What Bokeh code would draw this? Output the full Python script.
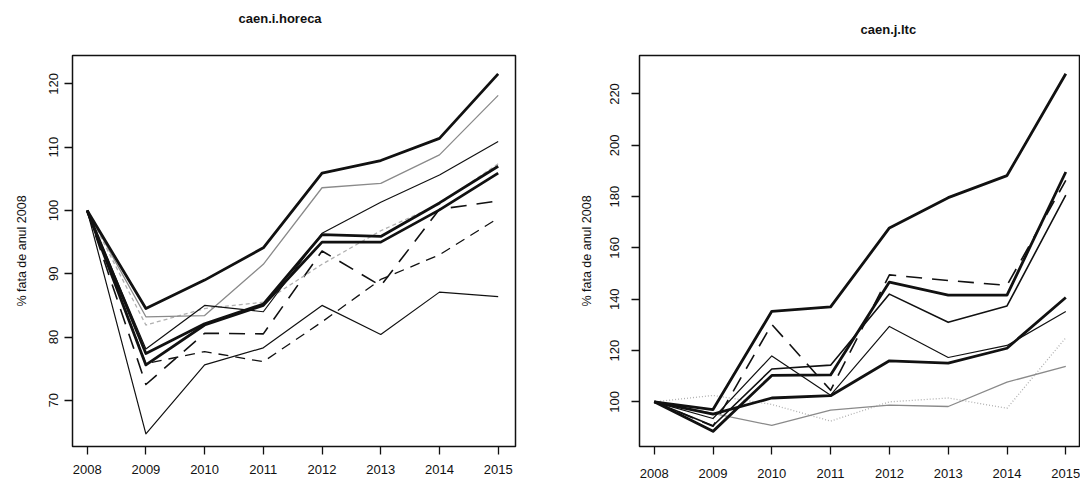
from bokeh.plotting import figure
from bokeh.layouts import row
from bokeh.models import Range1d, FixedTicker, Title
from bokeh.embed import file_html
from bokeh.resources import INLINE

# ---------------- data ----------------
years = [2008, 2009, 2010, 2011, 2012, 2013, 2014, 2015]

# panel 1: caen.i.horeca  (% fata de anul 2008)
horeca_1 = [100, 84.5, 89.0, 94.1, 105.9, 107.9, 111.4, 121.6]
horeca_2 = [100, 83.2, 83.4, 91.5, 103.6, 104.3, 108.8, 118.2]
horeca_3 = [100, 78.1, 85.0, 84.0, 96.4, 101.3, 105.6, 110.9]
horeca_4 = [100, 77.4, 82.1, 85.2, 96.2, 95.9, 101.2, 107.0]
horeca_5 = [100, 75.6, 81.9, 85.0, 95.0, 95.0, 100.1, 105.9]
horeca_6 = [100, 81.9, 84.5, 85.5, 91.5, 96.8, 101.0, 107.4]
horeca_7 = [100, 72.5, 80.6, 80.5, 93.6, 88.1, 100.2, 101.5]
horeca_8 = [100, 75.8, 77.7, 76.1, 82.4, 89.1, 93.0, 98.8]
horeca_9 = [100, 64.7, 75.6, 78.3, 85.0, 80.4, 87.1, 86.4]
horeca_ticks = [70, 80, 90, 100, 110, 120]

# panel 2: caen.j.ltc
ltc_1 = [100, 97.0, 135.3, 137.0, 167.8, 179.6, 188.2, 227.9]
ltc_2 = [100, 90.5, 130.2, 104.5, 149.5, 147.3, 145.4, 186.3]
ltc_3 = [100, 88.5, 110.3, 110.5, 146.7, 141.6, 141.6, 189.6]
ltc_4 = [100, 90.7, 112.8, 114.3, 142.0, 131.0, 137.4, 180.6]
ltc_5 = [100, 93.5, 117.9, 102.6, 129.4, 117.3, 122.0, 135.2]
ltc_6 = [100, 95.2, 101.5, 102.4, 116.0, 115.1, 120.9, 140.7]
ltc_7 = [100, 95.5, 90.8, 96.8, 98.7, 98.2, 107.7, 113.8]
ltc_8 = [100, 102.5, 99.0, 92.5, 100.0, 101.5, 97.5, 125.0]
ltc_ticks = [100, 120, 140, 160, 180, 200, 220]

y_label = "% fata de anul 2008"

# ---------------- styles ----------------
BLACK = "#111111"
GRAY = "#8a8a8a"
LGRAY = "#b0b0b0"
THICK = dict(line_color=BLACK, line_width=2.8)
THIN = dict(line_color=BLACK, line_width=1.2)
MED = dict(line_color=BLACK, line_width=1.6)
GRAY_SOLID = dict(line_color=GRAY, line_width=1.3)
GRAY_DOT = dict(line_color=LGRAY, line_width=1.3, line_dash="1 2")
GRAY_DASH = dict(line_color=LGRAY, line_width=1.3, line_dash="4 3")
LONG_DASH = dict(line_color=BLACK, line_width=1.6, line_dash="16 10")
DASH = dict(line_color=BLACK, line_width=1.3, line_dash="10 7")

FONT = "Liberation Sans"


def make_fig(width, xr, yr, bl, br, bt, bb, yticks, title, spacer_px, title_offset,
             xlab_standoff, ylab_standoff, yaxis_label_standoff):
    p = figure(width=width, height=484, x_range=Range1d(*xr), y_range=Range1d(*yr),
               output_backend="svg", toolbar_location=None,
               min_border_left=bl, min_border_right=br,
               min_border_top=bt, min_border_bottom=bb)
    p.grid.visible = False
    p.background_fill_color = "white"
    p.border_fill_color = "white"
    p.outline_line_color = BLACK
    p.outline_line_width = 1.5
    p.xaxis.ticker = FixedTicker(ticks=years)
    p.yaxis.ticker = FixedTicker(ticks=yticks)
    for ax in p.axis:
        ax.axis_line_color = None
        ax.major_tick_out = 8
        ax.major_tick_in = 0
        ax.minor_tick_line_color = None
        ax.major_tick_line_color = BLACK
        ax.major_tick_line_width = 1.3
        ax.major_label_text_font = FONT
        ax.major_label_text_font_size = "13px"
        ax.major_label_text_color = BLACK
    p.xaxis.major_label_standoff = xlab_standoff
    p.yaxis.major_label_orientation = "vertical"
    p.yaxis.major_label_standoff = ylab_standoff
    p.yaxis.axis_label = y_label
    p.yaxis.axis_label_text_font = FONT
    p.yaxis.axis_label_text_font_size = "12.5px"
    p.yaxis.axis_label_text_font_style = "normal"
    p.yaxis.axis_label_text_color = BLACK
    p.yaxis.axis_label_standoff = yaxis_label_standoff
    # spacer between the frame and the title
    p.add_layout(Title(text=" ", text_font_size=f"{spacer_px}px", standoff=0), "above")
    p.title.text = title
    p.title.align = "left"
    p.title.offset = title_offset
    p.title.text_font = FONT
    p.title.text_font_size = "13px"
    p.title.text_font_style = "bold"
    p.title.text_color = BLACK
    p.title.standoff = 0
    return p


p1 = make_fig(540, (2007.75, 2015.295), (62.7, 124.5), 72, 25, 50, 38,
              horeca_ticks, "caen.i.horeca", 25, 166, 10, 6, 18)
p1.line(years, horeca_9, line_join="round", **THIN)
p1.line(years, horeca_8, line_join="round", **DASH)
p1.line(years, horeca_7, line_join="round", **LONG_DASH)
p1.line(years, horeca_6, line_join="round", **GRAY_DASH)
p1.line(years, horeca_2, line_join="round", **GRAY_SOLID)
p1.line(years, horeca_3, line_join="round", **THIN)
p1.line(years, horeca_5, line_join="round", **THICK)
p1.line(years, horeca_4, line_join="round", **THICK)
p1.line(years, horeca_1, line_join="round", **THICK)

p2 = make_fig(540, (2007.75, 2015.25), (82.6, 235.0), 99, 0, 55, 32,
              ltc_ticks, "caen.j.ltc", 16, 221, 14, 12, 14)
p2.line(years, ltc_8, line_join="round", **GRAY_DOT)
p2.line(years, ltc_7, line_join="round", **GRAY_SOLID)
p2.line(years, ltc_5, line_join="round", **THIN)
p2.line(years, ltc_4, line_join="round", **MED)
p2.line(years, ltc_2, line_join="round", **LONG_DASH)
p2.line(years, ltc_6, line_join="round", **THICK)
p2.line(years, ltc_3, line_join="round", **THICK)
p2.line(years, ltc_1, line_join="round", **THICK)

layout = row(p1, p2, spacing=0)
open("out.html", "w").write(file_html(layout, INLINE))
